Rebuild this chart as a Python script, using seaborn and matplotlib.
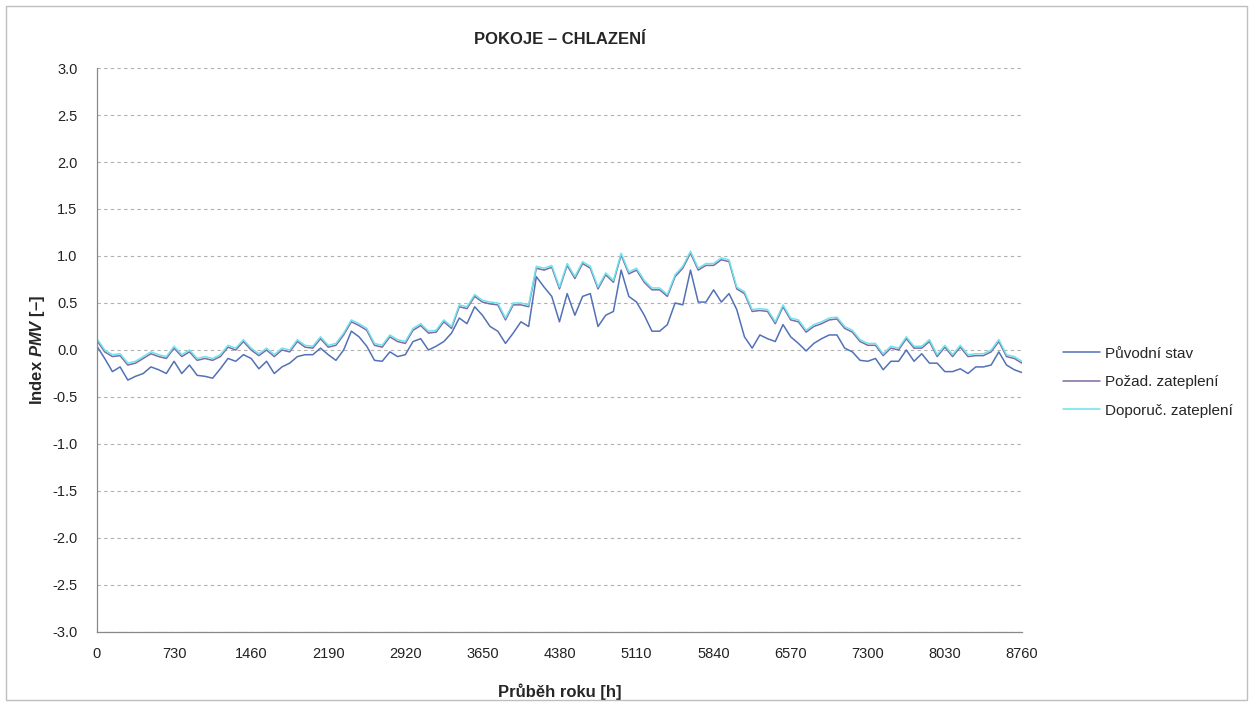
import numpy as np
import pandas as pd
import seaborn as sns
import matplotlib.pyplot as plt
from matplotlib.patches import Rectangle

# hours of the year, sampled every 73 h
hours = np.arange(0, 8761, 73)

puvodni = [
    0.04, -0.09, -0.23, -0.18, -0.32, -0.28, -0.25, -0.18, -0.21, -0.25,
    -0.12, -0.25, -0.16, -0.27, -0.28, -0.30, -0.20, -0.09, -0.12, -0.05,
    -0.09, -0.20, -0.12, -0.25, -0.18, -0.14, -0.07, -0.05, -0.05, 0.02,
    -0.05,
    -0.11, 0.00, 0.20, 0.14, 0.04, -0.11, -0.12, -0.02, -0.07, -0.05,
    0.09, 0.12, 0.00, 0.04, 0.09, 0.18, 0.34, 0.28, 0.46, 0.37,
    0.25, 0.20, 0.07, 0.18, 0.30, 0.25, 0.78, 0.67, 0.57, 0.30,
    0.60,
    0.37, 0.57, 0.60, 0.25, 0.37, 0.41, 0.85, 0.57, 0.51, 0.37,
    0.20, 0.20, 0.27, 0.50, 0.48, 0.85, 0.51, 0.51, 0.64, 0.51,
    0.60, 0.43, 0.14, 0.02, 0.16, 0.12, 0.09, 0.27, 0.14, 0.07,
    -0.01, 0.07, 0.12, 0.16, 0.16, 0.02, -0.02, -0.11, -0.12, -0.09,
    -0.21, -0.12, -0.12, 0.00, -0.12, -0.04, -0.14, -0.14, -0.23, -0.23,
    -0.20, -0.25, -0.18, -0.18, -0.16, -0.02, -0.16, -0.21, -0.24,
]

pozadovane = [
    0.10, -0.02, -0.07, -0.06, -0.16, -0.14, -0.09, -0.04, -0.07, -0.09,
    0.02, -0.07, -0.02, -0.11, -0.09, -0.11, -0.07, 0.03, 0.00, 0.09,
    0.00, -0.06, 0.00, -0.07, 0.00, -0.02, 0.09, 0.03, 0.02, 0.12,
    0.03,
    0.05, 0.16, 0.30, 0.26, 0.21, 0.05, 0.03, 0.14, 0.09, 0.07,
    0.21, 0.26, 0.18, 0.19, 0.30, 0.23, 0.46, 0.44, 0.57, 0.51,
    0.49, 0.48, 0.32, 0.48, 0.48, 0.46, 0.87, 0.85, 0.88, 0.65,
    0.90,
    0.76, 0.92, 0.87, 0.65, 0.80, 0.72, 1.01, 0.81, 0.85, 0.72,
    0.64, 0.64, 0.57, 0.78, 0.87, 1.03, 0.85, 0.90, 0.90, 0.96,
    0.94, 0.65, 0.60, 0.41, 0.42, 0.41, 0.28, 0.46, 0.32, 0.30,
    0.19, 0.25, 0.28, 0.32, 0.33, 0.23, 0.19, 0.09, 0.05, 0.05,
    -0.06, 0.02, 0.00, 0.12, 0.02, 0.02, 0.09, -0.07, 0.03, -0.07,
    0.03, -0.07, -0.06, -0.06, -0.02, 0.09, -0.07, -0.09, -0.14,
]

doporucene = [
    0.12, 0.00, -0.05, -0.04, -0.14, -0.12, -0.07, -0.02, -0.05, -0.07,
    0.04, -0.05, 0.00, -0.09, -0.07, -0.09, -0.05, 0.05, 0.02, 0.11,
    0.02, -0.04, 0.02, -0.05, 0.02, 0.00, 0.11, 0.05, 0.04, 0.14,
    0.05,
    0.07, 0.18, 0.32, 0.28, 0.23, 0.07, 0.05, 0.16, 0.11, 0.09,
    0.23, 0.28, 0.20, 0.21, 0.32, 0.25, 0.48, 0.46, 0.59, 0.53,
    0.51, 0.50, 0.34, 0.50, 0.50, 0.48, 0.89, 0.87, 0.90, 0.67,
    0.92,
    0.78, 0.94, 0.89, 0.67, 0.82, 0.74, 1.03, 0.83, 0.87, 0.74,
    0.66, 0.66, 0.59, 0.80, 0.89, 1.05, 0.87, 0.92, 0.92, 0.98,
    0.96, 0.67, 0.62, 0.43, 0.44, 0.43, 0.30, 0.48, 0.34, 0.32,
    0.21, 0.27, 0.30, 0.34, 0.35, 0.25, 0.21, 0.11, 0.07, 0.07,
    -0.04, 0.04, 0.02, 0.14, 0.04, 0.04, 0.11, -0.05, 0.05, -0.05,
    0.05, -0.05, -0.04, -0.04, 0.00, 0.11, -0.05, -0.07, -0.12,
]

series_names = ['Původní stav', 'Požad. zateplení', 'Doporuč. zateplení']
colors = ['#5271b6', '#7f6aa6', '#6ee4ec']

df = pd.DataFrame({
    'hodina': np.tile(hours, 3),
    'PMV': puvodni + pozadovane + doporucene,
    'stav': np.repeat(series_names, len(hours)),
})

sns.set_style('white')
plt.rcParams['font.family'] = ['Liberation Sans', 'DejaVu Sans']
plt.rcParams['mathtext.fontset'] = 'custom'
plt.rcParams['mathtext.rm'] = 'Liberation Sans:bold'
plt.rcParams['mathtext.it'] = 'Liberation Sans:italic:bold'
plt.rcParams['mathtext.bf'] = 'Liberation Sans:bold'

fig = plt.figure(figsize=(12.53, 7.04), dpi=100)
ax = fig.add_axes([0.0774, 0.1023, 0.7382, 0.8011])

sns.lineplot(data=df, x='hodina', y='PMV', hue='stav', hue_order=series_names,
             palette=dict(zip(series_names, colors)), linewidth=1.1, ax=ax)

ax.set_xlim(0, 8760)
ax.set_ylim(-3, 3)
ax.set_xticks(np.arange(0, 8761, 730))
ax.set_yticks(np.arange(-3, 3.01, 0.5))
ax.set_yticklabels([f'{v:.1f}' for v in np.arange(-3, 3.01, 0.5)])
ax.tick_params(labelsize=10.5, colors='#222222', length=4, direction='out')
ax.tick_params(axis='y', pad=10)
ax.tick_params(axis='x', pad=7)
ax.grid(axis='y', color='#b0b0b0', linestyle=(0, (3, 3)), linewidth=0.8)
ax.set_axisbelow(True)
for s in ['top', 'right']:
    ax.spines[s].set_visible(False)
for s in ['left', 'bottom']:
    ax.spines[s].set_color('#888888')
    ax.spines[s].set_linewidth(0.9)

ax.set_title('POKOJE – CHLAZENÍ', fontsize=12, fontweight='bold', pad=17)
ax.set_xlabel('Průběh roku [h]', fontsize=12, fontweight='bold', labelpad=16)
ax.set_ylabel(r'Index $\it{PMV}$ [–]', fontsize=12, fontweight='bold', labelpad=4)

leg = ax.legend(loc='center left', bbox_to_anchor=(1.03, 0.443), frameon=False,
                fontsize=11, handlelength=2.4, labelspacing=0.95, handletextpad=0.3)
for line in leg.get_lines():
    line.set_linewidth(1.1)

fig.patches.append(Rectangle((0.005, 0.006), 0.99, 0.986, transform=fig.transFigure,
                             fill=False, edgecolor='#bfbfbf', linewidth=1))

fig.savefig('out.png', dpi=100)
